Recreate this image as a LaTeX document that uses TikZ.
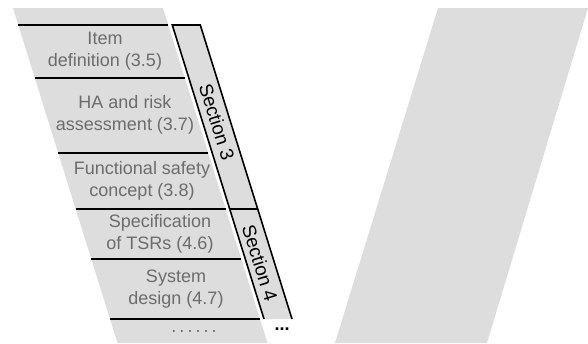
\documentclass[tikz,border=0pt]{standalone}
\usepackage{fontspec}
\setmainfont{Liberation Sans}
\usetikzlibrary{positioning, calc}
\definecolor{bandgray}{RGB}{221,221,221}
\definecolor{textgray}{RGB}{108,108,108}
\tikzset{
    phase/.style={text=textgray, align=center, inner sep=0pt, font=\fontsize{9}{11}\selectfont},
    seclabel/.style={rotate=-72.7, inner sep=0pt, font=\fontsize{9.5}{11}\selectfont},
    sep/.style={line width=1pt},
    secbox/.style={fill=bandgray, line width=0.8pt, line join=miter},
}
\begin{document}
\begin{tikzpicture}[x=0.5pt, y=-0.5pt]
\useasboundingbox (0,0) rectangle (588,343);

% the two arms of the V
\fill[bandgray] (13,8) -- (163,8) -- (267.5,343) -- (117.5,343) -- cycle;
\fill[bandgray] (438,8) -- (588,8) -- (487,343) -- (335,343) -- cycle;

% separators
\foreach \y in {25,78,153,209,259,319}
    \draw[sep] ({13+0.312*(\y-8)},\y) -- ({163+0.312*(\y-8)},\y);

% section strips
\fill[bandgray] (172.3,25) -- (200.3,25) -- (292,319) -- (264,319) -- cycle;
\draw[secbox] (172.3,25) -- (200.3,25) -- (257.7,209) -- (229.7,209) -- cycle;
\draw[secbox] (229.7,209) -- (264,319);
\draw[secbox] (257.7,209) -- (292,319);

\node[phase] (item) at (105,51) {Item\\definition (3.5)};
\node[phase] (hara) at (125,115) {HA and risk\\assessment (3.7)};
\node[phase] (fsc) at (142,181) {Functional safety\\concept (3.8)};
\node[phase] (tsr) at (160,234) {Specification\\of TSRs (4.6)};
\node[phase] (sysd) at (176,289) {System\\design (4.7)};
\node[phase] (more) at (194,332) {.\,.\,.\,.\,.\,.};

\node[seclabel] (sec3) at (217,122) {Section 3};
\node[seclabel] (sec4) at (260,263) {Section 4};
\node[inner sep=0pt, font=\bfseries\fontsize{9}{11}\selectfont] (etc) at (282,329) {...};
\end{tikzpicture}
\end{document}
